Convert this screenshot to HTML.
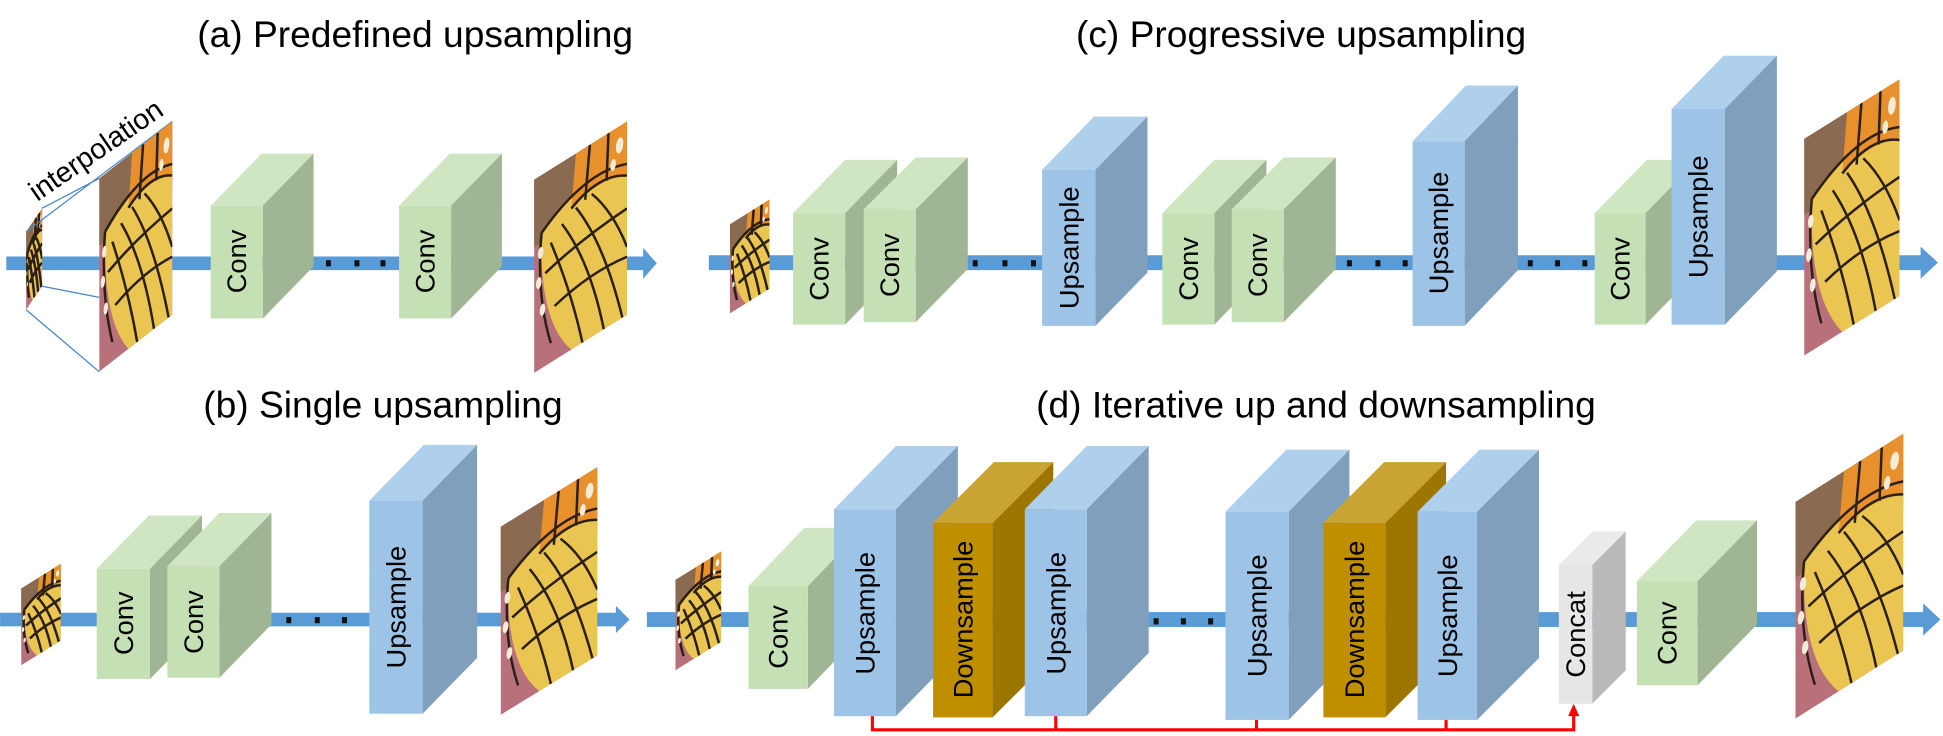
<!DOCTYPE html>
<html><head><meta charset="utf-8"><style>
html,body{margin:0;padding:0;background:#fff;}
svg{display:block;}
text{font-family:"Liberation Sans",Arial,sans-serif;fill:#000;}
.lbl{font-size:22px;text-anchor:middle;dominant-baseline:central;}
.ttl{font-size:30px;text-anchor:middle;}
</style></head><body>
<svg width="1943" height="736" viewBox="0 0 1568 594" xmlns="http://www.w3.org/2000/svg">
<defs>
<clipPath id="uc"><rect x="0" y="0" width="100" height="100"/></clipPath>
<g id="bf" clip-path="url(#uc)">
<rect width="100" height="100" fill="#b8707a"/>
<rect x="0" y="0" width="100" height="35" fill="#8a6a50"/>
<path d="M8,30 Q55,12 100,22 L100,100 L40,100 Q5,75 8,30Z" fill="#ebc552"/>
<path d="M45,0 L100,0 L100,28 Q72,20 40,27Z" fill="#e8912c"/>
<g fill="none" stroke="#2a2015" stroke-width="2.5">
<path d="M8,30 Q55,12 100,22" vector-effect="non-scaling-stroke"/>
<path d="M40,27 Q70,18 100,28" vector-effect="non-scaling-stroke"/>
<path d="M18,38 Q40,70 52,100" vector-effect="non-scaling-stroke"/>
<path d="M30,32 Q60,60 75,100" vector-effect="non-scaling-stroke"/>
<path d="M45,28 Q75,55 95,100" vector-effect="non-scaling-stroke"/>
<path d="M62,26 Q85,42 100,65" vector-effect="non-scaling-stroke"/>
<path d="M12,52 Q50,46 100,45" vector-effect="non-scaling-stroke"/>
<path d="M22,72 Q60,66 100,70" vector-effect="non-scaling-stroke"/>
<path d="M60,0 L55,27" vector-effect="non-scaling-stroke"/>
<path d="M80,0 L78,24" vector-effect="non-scaling-stroke"/>
<path d="M8,30 Q2,60 18,90" vector-effect="non-scaling-stroke"/>
</g>
<g fill="#f2ecd8"><circle cx="7" cy="40" r="3"/><circle cx="5" cy="55" r="3"/><circle cx="9" cy="70" r="3"/><circle cx="92" cy="10" r="4"/><circle cx="85" cy="18" r="3"/></g>
</g>
</defs>

<text class="ttl" x="335" y="38">(a) Predefined upsampling</text>
<text class="ttl" x="1050" y="38">(c) Progressive upsampling</text>
<text class="ttl" x="309" y="337">(b) Single upsampling</text>
<text class="ttl" x="1062" y="337">(d) Iterative up and downsampling</text>

<g fill="#5b9bd5">
<rect x="5" y="207" width="516" height="11"/><polygon points="519,200 530,212.5 519,225"/>
<rect x="572" y="206" width="981" height="12"/><polygon points="1550,199 1564,212 1550,225"/>
<rect x="0" y="494.5" width="498" height="11"/><polygon points="497,489 508,500 497,511"/>
<rect x="522" y="494" width="1033" height="12"/><polygon points="1552,487 1566,500 1552,513"/>
</g>

<use href="#bf" transform="matrix(0.13,-0.19,0,0.63,21,187)"/>
<g stroke="#4a86c8" stroke-width="1" fill="none">
<line x1="21" y1="187" x2="139" y2="98"/><line x1="34" y1="168" x2="80" y2="144"/>
<line x1="34" y1="231" x2="80" y2="240"/><line x1="21" y1="250" x2="80" y2="300"/>
</g>
<use href="#bf" transform="matrix(0.59,-0.46,0,1.56,80,144)"/>
<text x="0" y="0" font-size="23" transform="translate(30,163) rotate(-34.5)">interpolation</text>

<polygon points="170,166 212,166 253,124 211,124" fill="#d0e6c2"/>
<polygon points="212,166 253,124 253,215 212,257" fill="#a0b593"/>
<rect x="170" y="166" width="42" height="91" fill="#c5e0b4"/>
<text class="lbl" transform="translate(191,211) rotate(-90)">Conv</text>
<polygon points="322,166 364,166 405,124 363,124" fill="#d0e6c2"/>
<polygon points="364,166 405,124 405,215 364,257" fill="#a0b593"/>
<rect x="322" y="166" width="42" height="91" fill="#c5e0b4"/>
<text class="lbl" transform="translate(343,211) rotate(-90)">Conv</text>
<g fill="#111"><rect x="263" y="210" width="4" height="5"/><rect x="286" y="210" width="4" height="5"/><rect x="307" y="210" width="4" height="5"/></g>
<use href="#bf" transform="matrix(0.75,-0.47,0,1.56,431,145)"/>

<use href="#bf" transform="matrix(0.32,-0.2,0,0.72,589,181)"/>
<polygon points="640,172 682,172 724,129 682,129" fill="#d0e6c2"/><polygon points="682,172 724,129 724,219 682,262" fill="#a0b593"/><rect x="640" y="172" width="42" height="90" fill="#c5e0b4"/>
<text class="lbl" transform="translate(661,217) rotate(-90)">Conv</text>
<polygon points="697,169 739,169 781,127 739,127" fill="#d0e6c2"/><polygon points="739,169 781,127 781,217 739,260" fill="#a0b593"/><rect x="697" y="169" width="42" height="91" fill="#c5e0b4"/>
<text class="lbl" transform="translate(718,214) rotate(-90)">Conv</text>
<g fill="#111"><rect x="785" y="210" width="4" height="5"/><rect x="809" y="210" width="4" height="5"/><rect x="832" y="210" width="4" height="5"/></g>
<polygon points="841,137 884,137 926,94 883,94" fill="#afd0ec"/><polygon points="884,137 926,94 926,220 884,263" fill="#7f9fbd"/><rect x="841" y="137" width="43" height="126" fill="#9dc3e6"/>
<text class="lbl" transform="translate(862.5,200) rotate(-90)">Upsample</text>
<polygon points="938,172 980,172 1022,129 980,129" fill="#d0e6c2"/><polygon points="980,172 1022,129 1022,219 980,262" fill="#a0b593"/><rect x="938" y="172" width="42" height="90" fill="#c5e0b4"/>
<text class="lbl" transform="translate(959,217) rotate(-90)">Conv</text>
<polygon points="994,169 1036,169 1078,127 1036,127" fill="#d0e6c2"/><polygon points="1036,169 1078,127 1078,217 1036,260" fill="#a0b593"/><rect x="994" y="169" width="42" height="91" fill="#c5e0b4"/>
<text class="lbl" transform="translate(1015,214) rotate(-90)">Conv</text>
<g fill="#111"><rect x="1087" y="210" width="4" height="5"/><rect x="1110" y="210" width="4" height="5"/><rect x="1132" y="210" width="4" height="5"/></g>
<polygon points="1140,114 1182,114 1225,69 1183,69" fill="#afd0ec"/><polygon points="1182,114 1225,69 1225,218 1182,263" fill="#7f9fbd"/><rect x="1140" y="114" width="42" height="149" fill="#9dc3e6"/>
<text class="lbl" transform="translate(1161,188) rotate(-90)">Upsample</text>
<g fill="#111"><rect x="1233" y="210" width="4" height="5"/><rect x="1255" y="210" width="4" height="5"/><rect x="1277" y="210" width="4" height="5"/></g>
<polygon points="1287,172 1328,172 1370,129 1329,129" fill="#d0e6c2"/><polygon points="1328,172 1370,129 1370,219 1328,262" fill="#a0b593"/><rect x="1287" y="172" width="41" height="90" fill="#c5e0b4"/>
<text class="lbl" transform="translate(1307.5,217) rotate(-90)">Conv</text>
<polygon points="1349,88 1392,88 1434,45 1391,45" fill="#afd0ec"/><polygon points="1392,88 1434,45 1434,219 1392,262" fill="#7f9fbd"/><rect x="1349" y="88" width="43" height="174" fill="#9dc3e6"/>
<text class="lbl" transform="translate(1370.5,175) rotate(-90)">Upsample</text>
<use href="#bf" transform="matrix(0.77,-0.48,0,1.75,1456,112)"/>

<use href="#bf" transform="matrix(0.32,-0.2,0,0.62,17,475)"/>
<polygon points="78,459 121,459 163,416 120,416" fill="#d0e6c2"/><polygon points="121,459 163,416 163,505 121,548" fill="#a0b593"/><rect x="78" y="459" width="43" height="89" fill="#c5e0b4"/>
<text class="lbl" transform="translate(99.5,503) rotate(-90)">Conv</text>
<polygon points="135,457 177,457 219,414 177,414" fill="#d0e6c2"/><polygon points="177,457 219,414 219,504 177,547" fill="#a0b593"/><rect x="135" y="457" width="42" height="90" fill="#c5e0b4"/>
<text class="lbl" transform="translate(156,502) rotate(-90)">Conv</text>
<g fill="#111"><rect x="231" y="498" width="4" height="5"/><rect x="254" y="498" width="4" height="5"/><rect x="276" y="498" width="4" height="5"/></g>
<polygon points="298,404 341,404 385,359 342,359" fill="#afd0ec"/><polygon points="341,404 385,359 385,531 341,576" fill="#7f9fbd"/><rect x="298" y="404" width="43" height="172" fill="#9dc3e6"/>
<text class="lbl" transform="translate(319.5,490) rotate(-90)">Upsample</text>
<use href="#bf" transform="matrix(0.78,-0.48,0,1.52,404,425)"/>

<use href="#bf" transform="matrix(0.37,-0.23,0,0.73,545,468)"/>
<polygon points="604,473 652,473 697,426 649,426" fill="#d0e6c2"/><polygon points="652,473 697,426 697,509 652,556" fill="#a0b593"/><rect x="604" y="473" width="48" height="83" fill="#c5e0b4"/>
<text class="lbl" transform="translate(628,514) rotate(-90)">Conv</text>
<polygon points="673,411 723,411 773,360 723,360" fill="#afd0ec"/><polygon points="723,411 773,360 773,527 723,578" fill="#7f9fbd"/><rect x="673" y="411" width="50" height="167" fill="#9dc3e6"/>
<text class="lbl" transform="translate(698,495) rotate(-90)">Upsample</text>
<polygon points="753,422 801,422 850,373 802,373" fill="#c9a432"/><polygon points="801,422 850,373 850,530 801,579" fill="#9c7600"/><rect x="753" y="422" width="48" height="157" fill="#bf8f00"/>
<text class="lbl" transform="translate(777,500) rotate(-90)">Downsample</text>
<polygon points="827,411 877,411 927,360 877,360" fill="#afd0ec"/><polygon points="877,411 927,360 927,527 877,578" fill="#7f9fbd"/><rect x="827" y="411" width="50" height="167" fill="#9dc3e6"/>
<text class="lbl" transform="translate(852,495) rotate(-90)">Upsample</text>
<g fill="#111"><rect x="931" y="499" width="4" height="5"/><rect x="953" y="499" width="4" height="5"/><rect x="975" y="499" width="4" height="5"/></g>
<polygon points="989,413 1040,413 1089,363 1038,363" fill="#afd0ec"/><polygon points="1040,413 1089,363 1089,531 1040,581" fill="#7f9fbd"/><rect x="989" y="413" width="51" height="168" fill="#9dc3e6"/>
<text class="lbl" transform="translate(1014.5,497) rotate(-90)">Upsample</text>
<polygon points="1068,422 1118,422 1167,373 1117,373" fill="#c9a432"/><polygon points="1118,422 1167,373 1167,530 1118,579" fill="#9c7600"/><rect x="1068" y="422" width="50" height="157" fill="#bf8f00"/>
<text class="lbl" transform="translate(1093,500) rotate(-90)">Downsample</text>
<polygon points="1144,413 1192,413 1242,363 1194,363" fill="#afd0ec"/><polygon points="1192,413 1242,363 1242,531 1192,581" fill="#7f9fbd"/><rect x="1144" y="413" width="48" height="168" fill="#9dc3e6"/>
<text class="lbl" transform="translate(1168,497) rotate(-90)">Upsample</text>
<polygon points="1258,456 1285,456 1312,429 1285,429" fill="#ebebeb"/><polygon points="1285,456 1312,429 1312,541 1285,568" fill="#bababa"/><rect x="1258" y="456" width="27" height="112" fill="#e6e6e6"/>
<text class="lbl" transform="translate(1271.5,512) rotate(-90)">Concat</text>
<polygon points="1321,469 1370,469 1418,420 1369,420" fill="#d0e6c2"/><polygon points="1370,469 1418,420 1418,504 1370,553" fill="#a0b593"/><rect x="1321" y="469" width="49" height="84" fill="#c5e0b4"/>
<text class="lbl" transform="translate(1345.5,511) rotate(-90)">Conv</text>
<use href="#bf" transform="matrix(0.87,-0.55,0,1.75,1449,405)"/>

<g stroke="#ff0000" stroke-width="2.5" fill="none">
<polyline points="704,578 704,589 1270,589 1270,576"/>
<line x1="852" y1="578" x2="852" y2="589"/>
<line x1="1014" y1="581" x2="1014" y2="589"/>
<line x1="1167" y1="581" x2="1167" y2="589"/>
</g>
<polygon points="1265.5,578 1270,568 1274.5,578" fill="#ff0000"/>
</svg>
</body></html>
